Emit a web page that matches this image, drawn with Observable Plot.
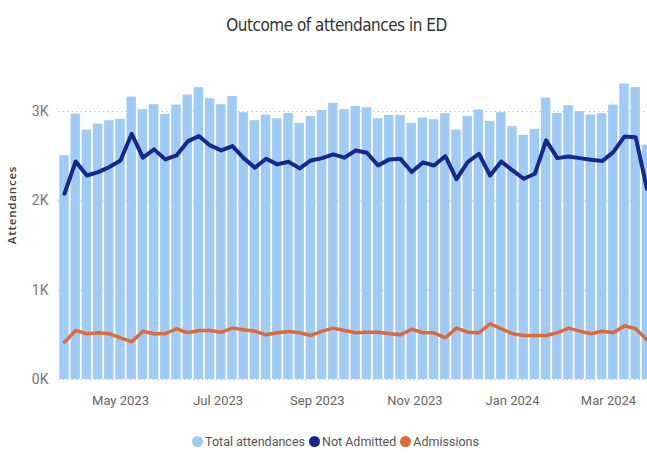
<!DOCTYPE html>
<html>
<head>
<meta charset="utf-8">
<script src="https://cdn.jsdelivr.net/npm/d3@7"></script>
<script src="https://cdn.jsdelivr.net/npm/@observablehq/plot@0.6"></script>
<style>
  html, body { margin: 0; padding: 0; background: #fff; width: 647px; height: 454px; overflow: hidden; }
  #wrap { position: relative; width: 647px; height: 454px; }
  #title { position: absolute; left: 0; top: 15px; width: 647px; text-align: center; padding-left: 26px; box-sizing: border-box;
           font-family: "DejaVu Sans Condensed", "DejaVu Sans", sans-serif; font-stretch: condensed; font-size: 17px;
           letter-spacing: -0.5px; color: #333; }
  #chart { position: absolute; left: 0; top: 50px; }
  #ylab { position: absolute; left: -38px; top: 197px; width: 100px; height: 16px; line-height: 16px; text-align: center;
          transform: rotate(-90deg); transform-origin: 50% 50%;
          font-family: "Open Sans", sans-serif; font-weight: 600; font-size: 11.5px; letter-spacing: 0.8px; color: #444; }
  #legend { position: absolute; top: 434px; left: 0; width: 647px; display: flex; justify-content: center; padding-left: 28px; box-sizing: border-box;
            font-family: Roboto, sans-serif; font-size: 12.5px; color: #555; }
  .item { display: flex; align-items: center; margin-right: 4px; }
  .dot { width: 11px; height: 11px; border-radius: 50%; margin-right: 2px; }
</style>
</head>
<body>
<div id="wrap">
  <div id="title">Outcome of attendances in ED</div>
  <div id="chart"></div>
  <div id="ylab">Attendances</div>
  <div id="legend"></div>
</div>
<script>
// Weekly ED activity, weeks beginning Monday 27 Mar 2023 to Monday 25 Mar 2024
const firstWeek = new Date(Date.UTC(2023, 2, 27));
const lastWeek = new Date(Date.UTC(2024, 2, 25));
const weeks = d3.utcMonday.range(firstWeek, d3.utcDay.offset(lastWeek, 1));

const totalAttendances = [
  2505, 2970, 2792, 2859, 2897, 2912, 3161, 3020, 3076, 2968,
  3072, 3184, 3267, 3143, 3076, 3169, 2987, 2897, 2960, 2919,
  2979, 2867, 2945, 3012, 3091, 3020, 3057, 3042, 2919, 2956,
  2956, 2867, 2926, 2908, 2975, 2792, 2945, 3016, 2889, 2987,
  2830, 2732, 2800, 3150, 2979, 3065, 2998, 2960, 2975, 3072,
  3307, 3267, 2624
];
const notAdmitted = [
  2080, 2441, 2284, 2322, 2378, 2452, 2751, 2483, 2576, 2464,
  2508, 2665, 2725, 2620, 2564, 2613, 2478, 2371, 2471, 2408,
  2438, 2363, 2452, 2478, 2520, 2483, 2564, 2538, 2396, 2464,
  2470, 2322, 2430, 2396, 2501, 2243, 2434, 2527, 2284, 2441,
  2340, 2247, 2303, 2676, 2478, 2497, 2478, 2460, 2445, 2545,
  2721, 2713, 2135
];
const admissions = [
  418, 549, 512, 523, 512, 467, 422, 541, 512, 512,
  568, 523, 549, 549, 530, 575, 556, 541, 500, 523,
  538, 523, 493, 541, 575, 549, 523, 530, 530, 512,
  500, 563, 523, 523, 467, 575, 530, 523, 624, 568,
  512, 493, 493, 493, 523, 575, 541, 512, 541, 523,
  601, 568, 444
];

const yTicks = [0, 1000, 2000, 3000];
const xTicks = [
  new Date(Date.UTC(2023, 4, 1)), new Date(Date.UTC(2023, 6, 1)), new Date(Date.UTC(2023, 8, 1)),
  new Date(Date.UTC(2023, 10, 1)), new Date(Date.UTC(2024, 0, 1)), new Date(Date.UTC(2024, 2, 1))
];

const seriesNames = ["Total attendances", "Not Admitted", "Admissions"];
const seriesColors = ["#9FCBF6", "#172792", "#E0693A"];

const rows = weeks.map((date, i) => ({
  date,
  total: totalAttendances[i],
  notAdmitted: notAdmitted[i],
  admissions: admissions[i]
}));

const halfWeek = 3.5 * 24 * 3600 * 1000;
const W = 647, H = 375;

const chart = Plot.plot({
  width: W,
  height: H,
  marginLeft: 58,
  marginRight: 0,
  marginTop: 61,
  marginBottom: 46,
  style: { fontFamily: "Roboto, sans-serif", fontSize: "13px", overflow: "visible" },
  x: {
    type: "utc",
    domain: [new Date(+firstWeek - halfWeek), new Date(+lastWeek + halfWeek)],
    range: [58.4, 58.4 + 53 * 11.2]
  },
  y: { domain: [0, 3000] },
  marks: [
    Plot.gridY(yTicks, { stroke: "#c8c8c8", strokeOpacity: 1, strokeDasharray: "1.5,3" }),
    Plot.rectY(rows, {
      x1: d => new Date(+d.date - halfWeek),
      x2: d => new Date(+d.date + halfWeek),
      y: "total",
      fill: seriesColors[0],
      insetLeft: 0.9,
      insetRight: 0.9
    }),
    Plot.lineY(rows, { x: "date", y: "admissions", stroke: seriesColors[2], strokeWidth: 3.5, strokeLinejoin: "round" }),
    Plot.lineY(rows, { x: "date", y: "notAdmitted", stroke: seriesColors[1], strokeWidth: 4, strokeLinejoin: "round" }),
    Plot.axisY({
      ticks: yTicks,
      tickSize: 0,
      tickPadding: 10,
      tickFormat: d => `${d / 1000}K`,
      label: null,
      fill: "#777",
      fontSize: 14
    }),
    Plot.axisX({
      ticks: xTicks,
      tickSize: 0,
      tickPadding: 16,
      tickFormat: d3.utcFormat("%b %Y"),
      label: null,
      fill: "#666",
      fontSize: 13
    })
  ]
});
document.getElementById("chart").appendChild(chart);

// legend
const legend = document.getElementById("legend");
seriesNames.forEach((name, i) => {
  const item = document.createElement("div");
  item.className = "item";
  const dot = document.createElement("span");
  dot.className = "dot";
  dot.style.background = seriesColors[i];
  const label = document.createElement("span");
  label.textContent = name;
  item.appendChild(dot);
  item.appendChild(label);
  legend.appendChild(item);
});
</script>
</body>
</html>
